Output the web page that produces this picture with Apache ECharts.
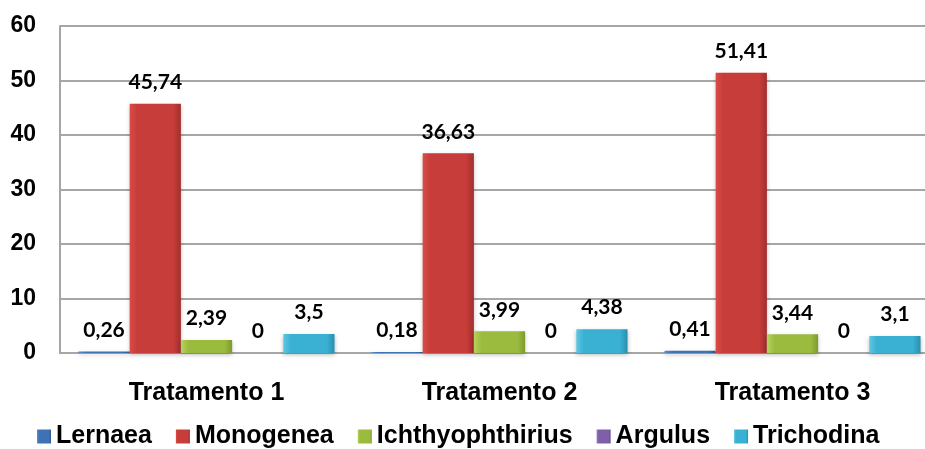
<!DOCTYPE html>
<html>
<head>
<meta charset="utf-8">
<script src="https://cdn.jsdelivr.net/npm/echarts@6/dist/echarts.min.js"></script>
<style>
  html, body { margin: 0; padding: 0; background: #fff; overflow: hidden; }
  #chart { width: 945px; height: 449px; }
</style>
</head>
<body>
<div id="chart"></div>
<script>
const categories = ['Tratamento 1', 'Tratamento 2', 'Tratamento 3'];
const seriesNames = ['Lernaea', 'Monogenea', 'Ichthyophthirius', 'Argulus', 'Trichodina'];
const lernaea = [0.26, 0.18, 0.41];
const monogenea = [45.74, 36.63, 51.41];
const ichthyophthirius = [2.39, 3.99, 3.44];
const argulus = [0, 0, 0];
const trichodina = [3.5, 4.38, 3.1];
const yTicks = [0, 10, 20, 30, 40, 50, 60];

const values = [lernaea, monogenea, ichthyophthirius, argulus, trichodina];
// light, mid, dark for the bevelled look
const palette = [
  ['#5b8fd0', '#3f72b5', '#2c5a95'],
  ['#dd4a45', '#c63d3a', '#a22e2c'],
  ['#b7d35e', '#9bbb3f', '#7d9a2d'],
  ['#9a7cc4', '#7f5fa8', '#634787'],
  ['#5cc8e4', '#3ab0d2', '#2a8fad']
];

function grad(c) {
  return new echarts.graphic.LinearGradient(0, 0, 1, 0, [
    {offset: 0, color: c[0]},
    {offset: 0.15, color: c[1]},
    {offset: 0.85, color: c[1]},
    {offset: 1, color: c[2]}
  ]);
}

// the original plot runs past the right edge of the picture,
// so the canvas is a bit wider than the window
const chart = echarts.init(document.getElementById('chart'));
chart.setOption({
  animation: false,
  textStyle: {fontFamily: 'Liberation Sans'},
  grid: {left: 60, top: 26, width: 879, height: 327, containLabel: false},
  legend: {
    top: 419,
    left: 32,
    itemWidth: 14,
    itemHeight: 14,
    itemGap: 24,
    icon: 'rect',
    textStyle: {fontSize: 25, fontWeight: 'bold', color: '#000'},
    data: seriesNames
  },
  xAxis: {
    type: 'category',
    data: categories,
    axisLine: {lineStyle: {color: '#a6a6a6', width: 2}},
    axisTick: {show: false},
    axisLabel: {fontSize: 25, fontWeight: 'bold', color: '#000', margin: 28}
  },
  yAxis: {
    type: 'value',
    min: yTicks[0],
    max: yTicks[yTicks.length - 1],
    interval: 10,
    axisLine: {show: true, lineStyle: {color: '#a6a6a6', width: 2}},
    axisTick: {show: false},
    splitLine: {lineStyle: {color: '#a6a6a6', width: 2}},
    axisLabel: {fontSize: 23, fontWeight: 'bold', color: '#000', margin: 24}
  },
  series: seriesNames.map((name, i) => ({
    name: name,
    type: 'bar',
    data: values[i],
    barGap: '0%',
    barCategoryGap: '12.6%',
    itemStyle: {
      color: grad(palette[i]),
      shadowColor: 'rgba(0,0,0,0.25)',
      shadowBlur: 4,
      shadowOffsetY: 2
    },
    label: {
      show: true,
      position: 'top',
      distance: 11,
      fontFamily: 'Lato',
      fontSize: 21,
      fontWeight: 'bold',
      color: '#000',
      formatter: p => String(p.value).replace('.', ',')
    }
  }))
});
</script>
</body>
</html>
